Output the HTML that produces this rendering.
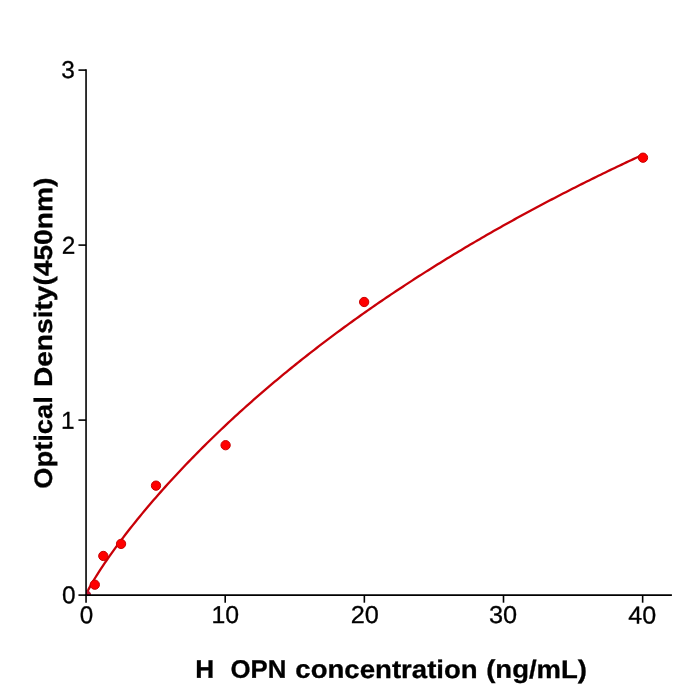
<!DOCTYPE html>
<html><head><meta charset="utf-8"><style>
html,body{margin:0;padding:0;background:#fff;width:700px;height:700px;overflow:hidden}
svg{display:block;will-change:transform}
text{font-family:"Liberation Sans",sans-serif;fill:#000;stroke:#000;stroke-width:0.3px}
</style></head><body>
<svg width="700" height="700" viewBox="0 0 700 700">
<defs><clipPath id="ax"><rect x="86.05" y="0" width="613.95" height="595.1"/></clipPath></defs>
<rect width="700" height="700" fill="#fff"/>
<g clip-path="url(#ax)">
<polyline fill="none" stroke="#c80008" stroke-width="2.3" stroke-linejoin="round" points="86.05,594.65 88.38,589.63 90.71,585.36 93.04,581.35 95.37,577.50 97.69,573.78 100.02,570.15 102.35,566.61 104.68,563.15 107.01,559.75 109.34,556.40 111.67,553.11 114.00,549.87 116.33,546.68 118.65,543.52 120.98,540.41 123.31,537.33 125.64,534.29 127.97,531.29 130.30,528.31 132.63,525.37 134.96,522.46 137.29,519.57 139.61,516.72 141.94,513.89 144.27,511.08 146.60,508.30 148.93,505.55 151.26,502.82 153.59,500.11 155.92,497.42 158.24,494.76 160.57,492.12 162.90,489.49 165.23,486.89 167.56,484.31 169.89,481.74 172.22,479.20 174.55,476.67 176.88,474.16 179.20,471.67 181.53,469.20 183.86,466.74 186.19,464.30 188.52,461.88 190.85,459.47 193.18,457.08 195.51,454.71 197.84,452.35 200.16,450.00 202.49,447.67 204.82,445.35 207.15,443.05 209.48,440.76 211.81,438.49 214.14,436.23 216.47,433.98 218.80,431.75 221.12,429.53 223.45,427.32 225.78,425.13 228.11,422.94 230.44,420.77 232.77,418.62 235.10,416.47 237.43,414.34 239.76,412.22 242.08,410.11 244.41,408.01 246.74,405.92 249.07,403.84 251.40,401.78 253.73,399.72 256.06,397.68 258.39,395.65 260.72,393.63 263.04,391.62 265.37,389.61 267.70,387.62 270.03,385.64 272.36,383.67 274.69,381.71 277.02,379.76 279.35,377.82 281.68,375.89 284.00,373.97 286.33,372.05 288.66,370.15 290.99,368.25 293.32,366.37 295.65,364.49 297.98,362.63 300.31,360.77 302.63,358.92 304.96,357.08 307.29,355.25 309.62,353.42 311.95,351.61 314.28,349.80 316.61,348.00 318.94,346.21 321.27,344.43 323.59,342.65 325.92,340.89 328.25,339.13 330.58,337.38 332.91,335.64 335.24,333.90 337.57,332.17 339.90,330.46 342.23,328.74 344.55,327.04 346.88,325.34 349.21,323.65 351.54,321.97 353.87,320.29 356.20,318.63 358.53,316.96 360.86,315.31 363.19,313.66 365.51,312.02 367.84,310.39 370.17,308.76 372.50,307.14 374.83,305.53 377.16,303.92 379.49,302.32 381.82,300.73 384.15,299.14 386.47,297.56 388.80,295.99 391.13,294.42 393.46,292.86 395.79,291.31 398.12,289.76 400.45,288.22 402.78,286.68 405.11,285.15 407.43,283.63 409.76,282.11 412.09,280.59 414.42,279.09 416.75,277.59 419.08,276.09 421.41,274.60 423.74,273.12 426.07,271.64 428.39,270.17 430.72,268.71 433.05,267.25 435.38,265.79 437.71,264.34 440.04,262.90 442.37,261.46 444.70,260.03 447.02,258.60 449.35,257.18 451.68,255.76 454.01,254.35 456.34,252.94 458.67,251.54 461.00,250.14 463.33,248.75 465.66,247.36 467.98,245.98 470.31,244.61 472.64,243.24 474.97,241.87 477.30,240.51 479.63,239.15 481.96,237.80 484.29,236.45 486.62,235.11 488.94,233.78 491.27,232.44 493.60,231.12 495.93,229.79 498.26,228.47 500.59,227.16 502.92,225.85 505.25,224.55 507.58,223.25 509.90,221.95 512.23,220.66 514.56,219.37 516.89,218.09 519.22,216.81 521.55,215.54 523.88,214.27 526.21,213.01 528.54,211.75 530.86,210.49 533.19,209.24 535.52,207.99 537.85,206.75 540.18,205.51 542.51,204.27 544.84,203.04 547.17,201.82 549.50,200.59 551.82,199.37 554.15,198.16 556.48,196.95 558.81,195.74 561.14,194.54 563.47,193.34 565.80,192.15 568.13,190.96 570.46,189.77 572.78,188.58 575.11,187.41 577.44,186.23 579.77,185.06 582.10,183.89 584.43,182.73 586.76,181.57 589.09,180.41 591.41,179.26 593.74,178.11 596.07,176.96 598.40,175.82 600.73,174.68 603.06,173.54 605.39,172.41 607.72,171.28 610.05,170.16 612.37,169.04 614.70,167.92 617.03,166.81 619.36,165.70 621.69,164.59 624.02,163.49 626.35,162.39 628.68,161.29 631.01,160.20 633.33,159.11 635.66,158.02 637.99,156.94 640.32,155.86 642.65,154.78"/>
<g fill="#ff0000" stroke="#c80000" stroke-width="1">
<circle cx="86.00" cy="595.10" r="4.65" fill="#c41030" stroke="#b0102a"/>
<circle cx="94.80" cy="584.70" r="4.65"/>
<circle cx="103.30" cy="555.95" r="4.65"/>
<circle cx="121.05" cy="543.90" r="4.65"/>
<circle cx="156.00" cy="485.65" r="4.65"/>
<circle cx="225.60" cy="445.20" r="4.65"/>
<circle cx="364.15" cy="302.00" r="4.65"/>
<circle cx="643.00" cy="157.70" r="4.65"/>
</g>
</g>
<g stroke="#000" stroke-width="1.6" fill="none">
<line x1="86.05" y1="595.9" x2="86.05" y2="69.3"/>
<line x1="85.25" y1="595.1" x2="671.9" y2="595.1"/>
<line x1="86.05" y1="595.1" x2="86.05" y2="602.7"/><line x1="225.20" y1="595.1" x2="225.20" y2="602.7"/><line x1="364.35" y1="595.1" x2="364.35" y2="602.7"/><line x1="503.50" y1="595.1" x2="503.50" y2="602.7"/><line x1="642.65" y1="595.1" x2="642.65" y2="602.7"/><line x1="78.45" y1="595.10" x2="86.05" y2="595.10"/><line x1="78.45" y1="420.10" x2="86.05" y2="420.10"/><line x1="78.45" y1="245.10" x2="86.05" y2="245.10"/><line x1="78.45" y1="70.10" x2="86.05" y2="70.10"/>
</g>
<text transform="translate(79.65,623.37) rotate(0.05)" font-size="24.4" textLength="13.49" lengthAdjust="spacingAndGlyphs">0</text>
<text transform="translate(211.40,622.96) rotate(0.05)" font-size="24.4" textLength="27.58" lengthAdjust="spacingAndGlyphs">10</text>
<text transform="translate(350.66,623.10) rotate(0.05)" font-size="24.4" textLength="28.13" lengthAdjust="spacingAndGlyphs">20</text>
<text transform="translate(488.91,622.91) rotate(0.05)" font-size="24.4" textLength="28.16" lengthAdjust="spacingAndGlyphs">30</text>
<text transform="translate(628.22,623.47) rotate(0.05)" font-size="24.4" textLength="27.91" lengthAdjust="spacingAndGlyphs">40</text>
<text transform="translate(62.07,603.27) rotate(0.05)" font-size="24.4">0</text>
<text transform="translate(61.07,428.73) rotate(0.05)" font-size="24.4">1</text>
<text transform="translate(61.67,253.80) rotate(0.05)" font-size="24.4">2</text>
<text transform="translate(61.20,77.98) rotate(0.05)" font-size="24.4">3</text>
<text transform="translate(195.26,677.84) rotate(0.05)" font-size="25.4" font-weight="bold" textLength="18.91" lengthAdjust="spacingAndGlyphs">H</text>
<text transform="translate(230.55,677.84) rotate(0.05)" font-size="25.4" font-weight="bold" textLength="55.82" lengthAdjust="spacingAndGlyphs">OPN</text>
<text transform="translate(295.34,677.84) rotate(0.05)" font-size="25.4" font-weight="bold" textLength="182.36" lengthAdjust="spacingAndGlyphs">concentration</text>
<text transform="translate(486.18,677.84) rotate(0.05)" font-size="25.4" font-weight="bold" textLength="100.84" lengthAdjust="spacingAndGlyphs">(ng/mL)</text>
<text transform="translate(52.00,488.75) rotate(-89.95)" font-size="25.4" font-weight="bold" textLength="92.53" lengthAdjust="spacingAndGlyphs">Optical</text>
<text transform="translate(52.00,387.12) rotate(-89.95)" font-size="25.4" font-weight="bold" textLength="209.43" lengthAdjust="spacingAndGlyphs">Density(450nm)</text>
</svg>
</body></html>
